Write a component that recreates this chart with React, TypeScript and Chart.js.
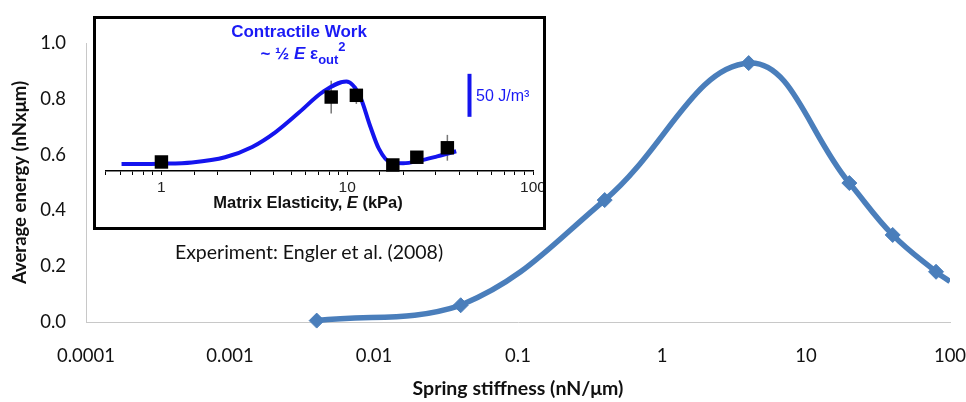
import React, { useEffect, useRef } from "react";
import { Chart, registerables } from "chart.js";

Chart.register(...registerables);

// ---- Main chart data ----
const stiffness = [0.004, 0.04, 0.4, 4, 20, 40, 80, 100];
const avgEnergy = [0.005, 0.06, 0.437, 0.928, 0.498, 0.312, 0.18, 0.145];
const hasMarker = [true, true, true, true, true, true, true, false];
const xTickValues = [0.0001, 0.001, 0.01, 0.1, 1, 10, 100];
const xTickLabels = ["0.0001", "0.001", "0.01", "0.1", "1", "10", "100"];
const yTickStep = 0.2;

// ---- Inset (Engler et al. 2008) data ----
const elasticity = [1, 8.2, 11.2, 17.6, 23.7, 34.6];
const contractileWork = [10.5, 86, 88, 7, 16, 27];
const workError = [0, 19, 10, 0, 0, 15];
const fitElasticity = [0.61, 1, 1.46, 2.2, 3.08, 4.1, 5.5, 7.4, 9.9, 11.7, 13.3, 14.8, 17.1, 20, 24.6, 30.5, 38.6];
const fitWork = [8, 8.5, 10, 16, 28, 45, 68, 92, 104, 87, 52, 26, 10, 9, 12, 17, 23];
const insetTickValues = [1, 10, 100];
const insetTickLabels = ["1", "10", "100"];
const scaleBarBase = 63;
const scaleBarValue = 50;

const MAIN_BLUE = "#4a7ebb";
const INSET_BLUE = "#1414ee";
const TEXT_BLUE = "#1a1af5";
const CALIBRI = "Lato, 'Open Sans', sans-serif";
const ARIAL = "'Liberation Sans', Arial, sans-serif";

function decadeLabel(v: number, values: number[], labels: string[]) {
  for (let i = 0; i < values.length; i++) {
    if (Math.abs(Math.log10(v) - Math.log10(values[i])) < 1e-6) return labels[i];
  }
  return "";
}

export default function App() {
  const mainRef = useRef<HTMLCanvasElement>(null);
  const insetRef = useRef<HTMLCanvasElement>(null);

  useEffect(() => {
    const main = new Chart(mainRef.current!, {
      type: "line",
      data: {
        datasets: [
          {
            data: stiffness.map((x, i) => ({ x, y: avgEnergy[i] })),
            borderColor: MAIN_BLUE,
            backgroundColor: MAIN_BLUE,
            borderWidth: 5.5,
            pointStyle: "rectRot",
            pointRadius: hasMarker.map((m) => (m ? 7.5 : 0)),
            pointBorderColor: MAIN_BLUE,
            pointBorderWidth: 1,
            tension: 0.4,
            clip: { left: 12, top: 12, right: 0, bottom: 12 } as any,
          },
        ],
      },
      options: {
        responsive: false,
        animation: false,
        devicePixelRatio: 1,
        layout: { padding: { left: 0, top: 43, right: 16, bottom: 0 } },
        plugins: { legend: { display: false }, tooltip: { enabled: false } },
        scales: {
          x: {
            type: "logarithmic",
            min: 0.0001,
            max: 100,
            grid: { display: false, drawTicks: false },
            border: { display: true, color: "#c8c8c8", width: 1 },
            afterBuildTicks: (s: any) => {
              s.ticks = xTickValues.map((v) => ({ value: v }));
            },
            afterFit: (s: any) => {
              s.height = 80;
              s.paddingLeft = 0;
              s.paddingRight = 0;
            },
            ticks: {
              autoSkip: false,
              maxRotation: 0,
              padding: 23,
              color: "#111",
              font: { family: CALIBRI, size: 18.5 },
              callback: (v: any) => decadeLabel(Number(v), xTickValues, xTickLabels),
            },
            title: {
              display: true,
              text: "Spring stiffness (nN/\u03bcm)",
              color: "#111",
              font: { family: CALIBRI, size: 19.5, weight: "bold" },
              padding: { top: 0, bottom: 2 },
            },
          },
          y: {
            min: 0,
            max: 1,
            grid: { display: false, drawTicks: false },
            border: { display: true, color: "#c8c8c8", width: 1 },
            afterFit: (s: any) => {
              s.width = 86;
            },
            ticks: {
              stepSize: yTickStep,
              padding: 20,
              color: "#111",
              font: { family: CALIBRI, size: 18.5 },
              callback: (v: any) => Number(v).toFixed(1),
            },
            title: {
              display: true,
              text: "Average energy (nNx\u03bcm)",
              color: "#111",
              font: { family: CALIBRI, size: 18.5, weight: "bold" },
              padding: { top: 9, bottom: 0 },
            },
          },
        },
      },
    } as any);

    const insetPlugin = {
      id: "insetExtras",
      beforeDatasetsDraw(chart: any) {
        const { ctx, scales } = chart;
        ctx.save();
        ctx.strokeStyle = "#777";
        ctx.lineWidth = 1.5;
        elasticity.forEach((e, i) => {
          const err = workError[i];
          if (!err) return;
          const x = scales.x.getPixelForValue(e);
          ctx.beginPath();
          ctx.moveTo(x, scales.y.getPixelForValue(contractileWork[i] - err));
          ctx.lineTo(x, scales.y.getPixelForValue(contractileWork[i] + err));
          ctx.stroke();
        });
        ctx.restore();
      },
      afterDatasetsDraw(chart: any) {
        const { ctx, scales } = chart;
        ctx.save();
        ctx.strokeStyle = INSET_BLUE;
        ctx.lineWidth = 4;
        const x = 373.5;
        ctx.beginPath();
        ctx.moveTo(x, scales.y.getPixelForValue(scaleBarBase));
        ctx.lineTo(x, scales.y.getPixelForValue(scaleBarBase + scaleBarValue));
        ctx.stroke();
        ctx.restore();
      },
    };

    const inset = new Chart(insetRef.current!, {
      type: "line",
      data: {
        datasets: [
          {
            data: elasticity.map((x, i) => ({ x, y: contractileWork[i] })),
            showLine: false,
            pointStyle: "rect",
            pointRadius: 9.5,
            backgroundColor: "#000",
            borderColor: "#000",
            pointBorderWidth: 0,
            clip: false as any,
          },
          {
            data: fitElasticity.map((x, i) => ({ x, y: fitWork[i] })),
            borderColor: INSET_BLUE,
            borderWidth: 4,
            pointRadius: 0,
            cubicInterpolationMode: "monotone",
            clip: false as any,
          },
        ],
      },
      options: {
        responsive: false,
        animation: false,
        devicePixelRatio: 1,
        layout: { padding: { left: 7, top: 23, right: 10, bottom: 0 } },
        plugins: { legend: { display: false }, tooltip: { enabled: false } },
        scales: {
          x: {
            type: "logarithmic",
            min: 0.5,
            max: 100,
            grid: {
              display: true,
              drawOnChartArea: false,
              drawTicks: true,
              tickLength: 4,
              color: "#000",
              tickColor: "#000",
            },
            border: { display: true, color: "#000", width: 1.5 },
            afterFit: (s: any) => {
              s.height = 56;
              s.paddingLeft = 0;
              s.paddingRight = 0;
            },
            ticks: {
              autoSkip: false,
              maxRotation: 0,
              padding: 3,
              color: "#222",
              font: { family: ARIAL, size: 15.5 },
              callback: (v: any) => decadeLabel(Number(v), insetTickValues, insetTickLabels),
            },
          },
          y: { display: false, min: 0, max: 150 },
        },
      },
      plugins: [insetPlugin],
    } as any);

    return () => {
      main.destroy();
      inset.destroy();
    };
  }, []);

  const abs = (style: React.CSSProperties): React.CSSProperties => ({
    position: "absolute",
    whiteSpace: "nowrap",
    ...style,
  });

  return (
    <div style={{ position: "absolute", left: 0, top: 0, width: 966, height: 402, background: "#fff", overflow: "hidden" }}>
      <canvas ref={mainRef} width={966} height={402} style={{ position: "absolute", left: 0, top: 0, width: 966, height: 402 }} />
      <div
        style={{
          position: "absolute",
          left: 93,
          top: 16,
          width: 447,
          height: 208,
          border: "3px solid #000",
          background: "#fff",
        }}
      >
        <canvas ref={insetRef} width={447} height={208} style={{ position: "absolute", left: 0, top: 0, width: 447, height: 208 }} />
      </div>
      <div
        style={abs({
          left: 299,
          top: 22,
          transform: "translateX(-50%)",
          fontFamily: ARIAL,
          fontWeight: "bold",
          fontSize: 17,
          lineHeight: "20px",
          color: TEXT_BLUE,
        })}
      >
        Contractile Work
      </div>
      <div
        style={abs({
          left: 303,
          top: 44,
          transform: "translateX(-50%)",
          fontFamily: ARIAL,
          fontWeight: "bold",
          fontSize: 17,
          lineHeight: "20px",
          color: TEXT_BLUE,
        })}
      >
        ~ ½ <i>E</i> ε
        <span style={{ fontSize: 13, position: "relative", top: 5 }}>out</span>
        <span style={{ fontSize: 13, position: "relative", top: -8 }}>2</span>
      </div>
      <div
        style={abs({
          left: 476,
          top: 86,
          fontFamily: ARIAL,
          fontSize: 16,
          lineHeight: "20px",
          color: TEXT_BLUE,
        })}
      >
        50 J/m³
      </div>
      <div
        style={abs({
          left: 308,
          top: 192,
          transform: "translateX(-50%)",
          fontFamily: ARIAL,
          fontWeight: "bold",
          fontSize: 16.5,
          lineHeight: "20px",
          color: "#111",
        })}
      >
        Matrix Elasticity, <i>E</i> (kPa)
      </div>
      <div
        style={abs({
          left: 309,
          top: 241,
          transform: "translateX(-50%)",
          fontFamily: CALIBRI,
          fontSize: 19.5,
          lineHeight: "22px",
          color: "#111",
        })}
      >
        Experiment: Engler et al. (2008)
      </div>
    </div>
  );
}
